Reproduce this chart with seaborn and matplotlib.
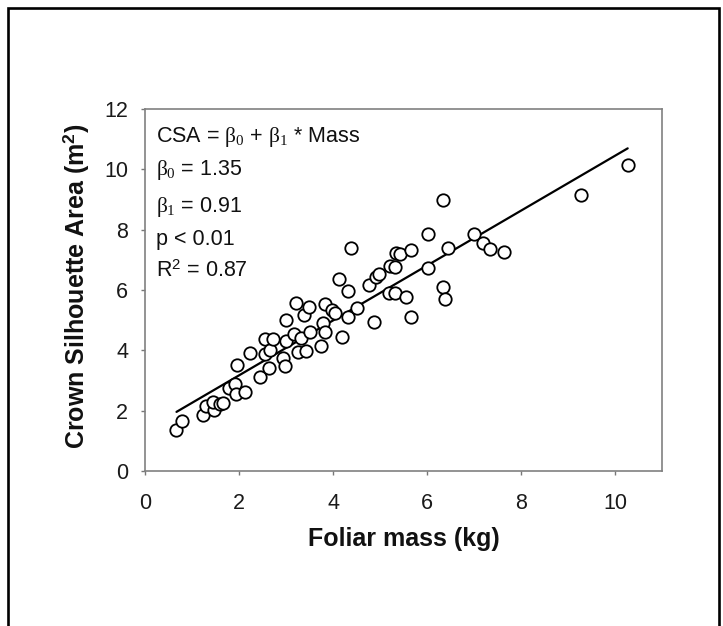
import numpy as np
import pandas as pd
import matplotlib
matplotlib.use("Agg")
import matplotlib.pyplot as plt
from matplotlib.patches import Rectangle
import seaborn as sns

# Foliar mass (kg) and crown silhouette area (m^2) of the sampled trees
foliar_mass = [0.67, 0.78, 1.23, 1.30, 1.47, 1.44, 1.60, 1.65, 1.79, 1.92,
               1.94, 1.96, 2.12, 2.23, 2.44, 2.55, 2.56, 2.63, 2.66, 2.73,
               2.94, 2.97, 3.00, 3.00, 3.16, 3.22, 3.25, 3.31, 3.39, 3.42,
               3.49, 3.52, 3.75, 3.78, 3.82, 3.82, 3.98, 4.05, 4.20, 4.12,
               4.32, 4.32, 4.39, 4.52, 4.76, 4.88, 4.92, 4.98, 5.21, 5.20,
               5.31, 5.32, 5.35, 5.42, 5.55, 5.67, 5.67, 6.02, 6.02, 6.35,
               6.35, 6.39, 6.45, 7.00, 7.20, 7.35, 7.63, 9.28, 10.27]
crown_area = [1.36, 1.66, 1.86, 2.15, 2.02, 2.28, 2.22, 2.26, 2.76, 2.89,
              2.55, 3.50, 2.61, 3.92, 3.10, 3.89, 4.36, 3.42, 4.00, 4.36,
              3.76, 3.49, 4.30, 5.00, 4.55, 5.56, 3.96, 4.41, 5.16, 3.97,
              5.43, 4.61, 4.16, 4.92, 4.61, 5.53, 5.35, 5.23, 4.44, 6.38,
              5.10, 5.98, 7.38, 5.41, 6.18, 4.94, 6.44, 6.54, 6.81, 5.91,
              5.89, 6.77, 7.24, 7.20, 5.77, 7.32, 5.11, 6.72, 7.85, 9.00,
              6.11, 5.69, 7.40, 7.85, 7.56, 7.35, 7.27, 9.15, 10.14]

# Fitted linear model CSA = b0 + b1 * Mass
beta0 = 1.35
beta1 = 0.91
p_text = "p < 0.01"
r2_text = "0.87"

x_ticks = [0, 2, 4, 6, 8, 10]
y_ticks = [0, 2, 4, 6, 8, 10, 12]

df = pd.DataFrame({"mass": foliar_mass, "csa": crown_area})
fit_x = np.array([min(foliar_mass), max(foliar_mass)])
fit = pd.DataFrame({"mass": fit_x, "csa": beta0 + beta1 * fit_x})

sns.set_theme(style="white")
plt.rcParams["font.family"] = ["Liberation Sans", "DejaVu Sans"]
plt.rcParams["mathtext.fontset"] = "custom"
plt.rcParams["mathtext.rm"] = "Liberation Sans"
plt.rcParams["mathtext.it"] = "Liberation Serif"
plt.rcParams["mathtext.sf"] = "Liberation Serif"
plt.rcParams["mathtext.bf"] = "Liberation Sans:bold"

fig = plt.figure(figsize=(7.23, 6.26), dpi=100)
ax = fig.add_axes([145 / 723, 1 - 471 / 626, 517 / 723, 362 / 626])

sns.lineplot(data=fit, x="mass", y="csa", ax=ax, color="black", lw=1.6)
sns.scatterplot(data=df, x="mass", y="csa", ax=ax, s=80, marker="o",
                facecolor="white", edgecolor="black", linewidth=1.3, zorder=3)

ax.set_xlim(0, 11)
ax.set_ylim(0, 12)
ax.set_xticks(x_ticks)
ax.set_yticks(y_ticks)
ax.tick_params(axis="both", which="major", direction="out", length=3,
               width=1, color="#777777", labelsize=15.5, labelcolor="#1a1a1a",
               bottom=True, left=True)
ax.tick_params(axis="x", pad=13)
ax.tick_params(axis="y", pad=9)
for sp in ax.spines.values():
    sp.set_color("#808080")
    sp.set_linewidth(1.2)
    sp.set_visible(True)

ax.set_xlabel("Foliar mass (kg)", fontsize=18, fontweight="bold", va="center",
              color="#111111")
ax.xaxis.set_label_coords(0.5, -0.188)
ax.set_ylabel(r"Crown Silhouette Area (m$^{\mathbf{2}}$)", fontsize=18,
              fontweight="bold", va="center", color="#111111")
ax.yaxis.set_label_coords(-0.133, 0.51)

lines = [
    r"CSA = $\beta_{\mathsf{0}}$ + $\beta_{\mathsf{1}}$ * Mass",
    rf"$\beta_{{\mathsf{{0}}}}$ = {beta0:.2f}",
    rf"$\beta_{{\mathsf{{1}}}}$ = {beta1:.2f}",
    p_text,
    rf"R$^{{2}}$ = {r2_text}",
]
ys = [0.910, 0.818, 0.716, 0.624, 0.537]
for txt, yy in zip(lines, ys):
    ax.text(0.021, yy, txt, transform=ax.transAxes, fontsize=15.5,
            va="baseline", ha="left", color="#111111")

# Outer frame around the panel
fig.patches.append(Rectangle((8 / 723, -0.05), (719 - 8) / 723, 1.05 - 8 / 626,
                             transform=fig.transFigure, fill=False,
                             edgecolor="black", linewidth=1.9))

fig.savefig("out.png", dpi=100)
